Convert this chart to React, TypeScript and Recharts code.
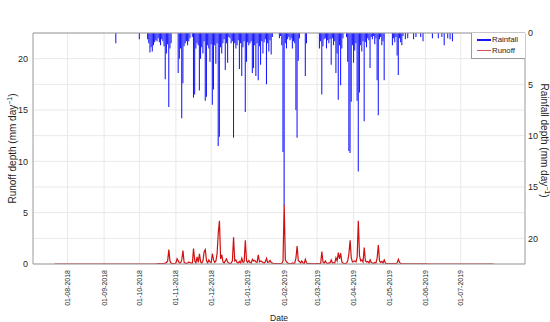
import React from 'react'
import { ComposedChart, Bar, Line, XAxis, YAxis, CartesianGrid, ReferenceLine } from 'recharts'

// ── Data ─────────────────────────────────────────────────────────────────────
// daily values, consecutive days starting at FIRST_DAY, read off month by month

const AXIS_ORIGIN = '2018-07-01'
const FIRST_DAY = '2018-07-21'

const monthTicks = [
  '2018-08-01', '2018-09-01', '2018-10-01', '2018-11-01', '2018-12-01', '2019-01-01',
  '2019-02-01', '2019-03-01', '2019-04-01', '2019-05-01', '2019-06-01', '2019-07-01',
]
const depthTicks = [0, 5, 10, 15, 20]
const gridValues = [0, 2.5, 5, 7.5, 10, 12.5, 15, 17.5, 20, 22.5]

// rainfall depth (mm/day)
const rainJul18 = [0, 0, 0, 0, 0, 0, 0, 0, 0, 0, 0, 0, 0]
const rainAug18 = [0, 0, 0, 0, 0, 0, 0, 0, 0, 0, 0, 0, 0, 0, 0, 0, 0, 0, 0, 0, 0, 0, 0, 0, 0, 0, 0, 0, 0, 0, 0]
const rainSep18 = [0, 0, 0, 0, 0, 0, 0, 0, 1.0, 0, 0, 0, 0, 0, 0, 0, 0, 0, 0, 0, 0, 0, 0, 0, 0, 0, 0, 0, 0.6, 0]
const rainOct18 = [0, 0, 0, 0, 0, 0.6, 1.0, 1.9, 1.4, 1.8, 1.2, 0.9, 0.7, 0.8, 0.5, 0.9, 1.2, 0.6, 0.8, 1.3, 4.5, 2.0, 1.1, 7.2, 1.5, 1.0, 0, 0, 0, 0, 0]
const rainNov18 = [3.9, 2.5, 1.5, 8.3, 4.9, 1.3, 1.0, 0.8, 1.2, 0.8, 0.5, 0, 0.4, 6.3, 6.0, 1.5, 1.0, 1.2, 5.6, 2.5, 1.4, 2.0, 0.8, 6.6, 6.2, 1.2, 1.5, 2.8, 1.1, 7.0]
const rainDec18 = [5.5, 1.2, 3.0, 1.0, 11.0, 10.1, 1.4, 2.0, 1.0, 0.6, 3.6, 1.0, 2.9, 0.4, 0.5, 1.0, 0.8, 10.2, 1.0, 1.5, 1.2, 0.7, 3.5, 1.0, 4.2, 1.4, 0.8, 7.7, 2.8, 0.9, 1.2]
const rainJan19 = [1.0, 0.8, 3.9, 3.4, 1.2, 4.2, 1.0, 4.6, 1.3, 3.1, 0.8, 2.0, 0.9, 0.6, 5.0, 1.0, 1.8, 0.7, 2.1, 0.4, 0, 0, 0, 0, 0, 0.5, 0.3, 1.2, 11.6, 16.8, 1.0]
const rainFeb19 = [1.5, 0.6, 0.4, 0.7, 0.5, 1.5, 0.8, 1.0, 7.5, 10.2, 2.7, 0.5, 0, 0, 0, 0, 4.2, 1.0, 0, 0, 0, 0, 0, 0, 0, 0, 0, 0]
const rainMar19 = [1.5, 0.8, 6.0, 1.3, 0.6, 0.5, 1.5, 0.7, 1.0, 0.6, 3.1, 0.5, 1.2, 0.8, 3.9, 2.0, 6.5, 1.2, 5.1, 1.5, 0.5, 0, 0, 0.4, 2.8, 11.5, 11.7, 6.7, 1.2, 2.9, 1.7]
const rainApr19 = [1.0, 6.6, 13.5, 5.8, 1.2, 1.8, 0.8, 8.6, 0.9, 1.4, 0.5, 0.7, 3.4, 0.4, 0.6, 0.3, 1.1, 0.5, 4.6, 8.0, 0.6, 0.4, 1.2, 0.8, 4.6, 0, 0, 0, 0, 0]
const rainMay19 = [0, 1.2, 0.5, 0.9, 0.4, 2.2, 4.1, 0.5, 0.9, 1.2, 0.3, 0, 0.6, 0, 0.5, 0, 0, 0, 0, 0.6, 0, 0.4, 0, 0, 0, 0.4, 0, 0.8, 0, 0, 0]
const rainJun19 = [0, 0, 0, 0, 0.5, 0, 0, 0, 0, 0.5, 0, 0, 0.4, 0, 1.2, 0, 0, 0.5, 0, 0.6, 0, 0.8, 0, 0, 0, 0, 0, 0, 0, 0]
const rainJul19 = [0, 0, 0, 0, 0, 0, 0, 0, 0, 0, 0, 0, 0, 0, 0, 0, 0, 0, 0, 0, 0, 0, 0, 0, 0, 0, 0]

// runoff depth (mm/day)
const runJul18 = [0, 0, 0, 0, 0, 0, 0, 0, 0, 0, 0, 0, 0]
const runAug18 = [0, 0, 0, 0, 0, 0, 0, 0, 0, 0, 0, 0, 0, 0, 0, 0, 0, 0, 0, 0, 0, 0, 0, 0, 0, 0, 0, 0, 0, 0, 0]
const runSep18 = [0, 0, 0, 0, 0, 0, 0, 0, 0, 0, 0, 0, 0, 0, 0, 0, 0, 0, 0, 0, 0, 0, 0, 0, 0, 0, 0, 0, 0, 0]
const runOct18 = [0, 0, 0, 0, 0, 0, 0, 0, 0, 0, 0, 0, 0, 0.02, 0.03, 0.03, 0.04, 0.05, 0.05, 0.06, 0.08, 0.15, 0.3, 1.4, 0.25, 0.08, 0.06, 0.05, 0.05, 0.1, 0.5]
const runNov18 = [0.3, 0.1, 0.1, 0.4, 1.3, 0.15, 0.08, 0.06, 0.1, 0.2, 0.15, 0.08, 0.1, 1.5, 0.3, 0.1, 0.7, 0.15, 1.0, 0.2, 0.1, 0.3, 1.2, 1.4, 0.3, 0.1, 0.4, 0.2, 0.15, 1.0]
const runDec18 = [0.4, 0.15, 0.3, 1.0, 3.0, 4.2, 0.5, 0.9, 0.2, 0.1, 0.3, 0.5, 0.2, 0.1, 0.05, 0.1, 0.3, 2.6, 0.3, 0.4, 0.15, 0.1, 0.25, 0.1, 0.55, 0.15, 0.2, 2.3, 0.3, 0.15, 0.35]
const runJan19 = [0.15, 0.1, 0.45, 0.3, 0.35, 0.2, 0.15, 0.9, 0.2, 0.3, 0.25, 0.15, 0.1, 0.2, 0.55, 0.15, 0.2, 0.35, 0.15, 0.08, 0.05, 0.05, 0.05, 0.05, 0.05, 0.05, 0.05, 0.05, 0.3, 5.75, 0.4]
const runFeb19 = [0.2, 0.1, 0.05, 0.05, 0.05, 0.1, 0.05, 0.1, 0.6, 1.75, 0.3, 0.25, 0.1, 0.3, 0.1, 0.05, 0.45, 0.1, 0.03, 0.03, 0.03, 0.03, 0.03, 0.03, 0.03, 0.03, 0.03, 0.03]
const runMar19 = [0.03, 0.05, 1.2, 0.2, 0.1, 0.3, 0.1, 0.05, 0.1, 0.1, 0.4, 0.1, 0.1, 0.1, 0.6, 0.3, 1.1, 0.5, 1.05, 0.2, 0.1, 0.05, 0.05, 0.1, 0.3, 1.0, 2.3, 0.6, 0.2, 0.25, 0.3]
const runApr19 = [0.2, 0.7, 4.2, 0.8, 0.3, 0.4, 0.2, 1.6, 0.3, 0.2, 0.25, 0.1, 0.4, 0.15, 0.1, 0.05, 0.15, 0.1, 0.6, 1.85, 0.3, 0.15, 0.25, 0.1, 0.4, 0.1, 0.05, 0.03, 0.03, 0.03]
const runMay19 = [0.03, 0.03, 0.03, 0.03, 0.03, 0.1, 0.45, 0.15, 0.05, 0.03, 0.02, 0.02, 0.02, 0.02, 0.02, 0.02, 0.02, 0.02, 0.02, 0.02, 0.02, 0.02, 0.02, 0.02, 0.02, 0.02, 0.02, 0.02, 0.02, 0.02, 0.02]
const runJun19 = [0, 0, 0, 0, 0, 0, 0, 0, 0, 0, 0, 0, 0, 0, 0, 0, 0, 0, 0, 0, 0, 0, 0, 0, 0, 0, 0, 0, 0, 0]
const runJul19 = [0, 0, 0, 0, 0, 0, 0, 0, 0, 0, 0, 0, 0, 0, 0, 0, 0, 0, 0, 0, 0, 0, 0, 0, 0, 0, 0]

const rainfall = [
  ...rainJul18, ...rainAug18, ...rainSep18, ...rainOct18, ...rainNov18, ...rainDec18, ...rainJan19,
  ...rainFeb19, ...rainMar19, ...rainApr19, ...rainMay19, ...rainJun19, ...rainJul19,
]
const runoff = [
  ...runJul18, ...runAug18, ...runSep18, ...runOct18, ...runNov18, ...runDec18, ...runJan19,
  ...runFeb19, ...runMar19, ...runApr19, ...runMay19, ...runJun19, ...runJul19,
]

const DAY_MS = 86400000
const dayNo = (iso: string) => (Date.parse(iso) - Date.parse(AXIS_ORIGIN)) / DAY_MS
const start = dayNo(FIRST_DAY)

const data = rainfall.map((r, i) => ({ day: start + i, rain: r, runoff: runoff[i] }))
const tickDays = monthTicks.map(dayNo)

const fmtDay = (d: number) => {
  const dt = new Date(Date.parse(AXIS_ORIGIN) + d * DAY_MS)
  const p = (n: number) => String(n).padStart(2, '0')
  return `${p(dt.getUTCDate())}-${p(dt.getUTCMonth() + 1)}-${dt.getUTCFullYear()}`
}

// ── Styles ───────────────────────────────────────────────────────────────────

const FONT = '"Liberation Sans", Arial, sans-serif'
const BLUE = '#1818ff'
const RED = '#d01010'
const AXIS = '#9a9a9a'
const GRID = '#e9e9e9'
const tickStyle = { fill: '#262626', fontSize: 9, fontFamily: FONT }

function DateTick({ x, y, payload }: any) {
  return (
    <text
      x={x} y={y} dy={2.6} transform={`rotate(-90 ${x} ${y})`} textAnchor="end"
      fill="#1e1e1e" fontSize={7} fontFamily={FONT}
    >
      {fmtDay(payload.value)}
    </text>
  )
}

function Unit() {
  return (
    <>
      <tspan>(mm day</tspan>
      <tspan dy={-4} fontSize={7}>−1</tspan>
      <tspan dy={4}>)</tspan>
    </>
  )
}

function LeftTitle({ viewBox }: any) {
  const cx = viewBox.x + 12
  const cy = viewBox.y + viewBox.height / 2
  return (
    <text x={cx} y={cy} transform={`rotate(-90 ${cx} ${cy})`} textAnchor="middle" dy={3.5}
      fill="#222" fontSize={10} fontFamily={FONT}>
      Runoff depth <Unit />
    </text>
  )
}

function RightTitle({ viewBox }: any) {
  const cx = viewBox.x + viewBox.width - 6
  const cy = viewBox.y + viewBox.height / 2 - 8
  return (
    <text x={cx} y={cy} transform={`rotate(90 ${cx} ${cy})`} textAnchor="middle" dy={3.5}
      fill="#222" fontSize={10} fontFamily={FONT}>
      Rainfall depth <Unit />
    </text>
  )
}

function LegendBox() {
  const row = { display: 'flex', alignItems: 'center', height: 11 }
  const label = { fontSize: 7.8, color: '#222', fontFamily: FONT, marginLeft: 1 }
  return (
    <div style={{
      position: 'absolute', left: 471, top: 33, width: 53, height: 24, background: '#fff',
      border: `1px solid ${AXIS}`, borderTop: 'none', borderRight: 'none', boxSizing: 'content-box',
      padding: '1px 0 0 0',
    }}>
      <div style={{ ...row, marginLeft: 5 }}>
        <div style={{ width: 14, height: 2, background: BLUE }} />
        <span style={label}>Rainfall</span>
      </div>
      <div style={{ ...row, marginLeft: 5 }}>
        <div style={{ width: 14, height: 1, background: '#d85050' }} />
        <span style={label}>Runoff</span>
      </div>
    </div>
  )
}

export default function App() {
  return (
    <div style={{ position: 'absolute', left: 0, top: 0, width: 550, height: 322, background: '#fff' }}>
      <ComposedChart width={550} height={322} data={data} margin={{ top: 33, right: 0, bottom: 0, left: 0 }}>
        <CartesianGrid yAxisId="left" stroke={GRID} horizontalValues={gridValues} verticalValues={tickDays} />
        <XAxis
          dataKey="day" type="number" domain={[1.6, 419.6]} ticks={tickDays} allowDataOverflow
          height={58} tickSize={0} tickMargin={6} tick={<DateTick />} interval={0}
          axisLine={{ stroke: AXIS }} tickLine={false}
          label={{ value: 'Date', position: 'insideBottom', offset: 1, style: { fill: '#222', fontSize: 8.5, fontFamily: FONT } }}
        />
        <YAxis
          yAxisId="left" domain={[0, 22.5]} ticks={depthTicks} width={33} allowDataOverflow
          tickSize={0} tickMargin={5} tick={tickStyle} axisLine={{ stroke: AXIS }} tickLine={false}
          label={LeftTitle}
        />
        <YAxis
          yAxisId="right" orientation="right" reversed domain={[0, 22.5]} ticks={depthTicks} width={25}
          allowDataOverflow tickSize={0} tickMargin={3} tick={tickStyle} axisLine={{ stroke: AXIS }}
          tickLine={false} label={RightTitle}
        />
        <ReferenceLine yAxisId="left" y={22.5} stroke={AXIS} />
        <Bar yAxisId="right" dataKey="rain" fill={BLUE} barSize={2} isAnimationActive={false} />
        <Line
          yAxisId="left" dataKey="runoff" type="linear" stroke={RED} strokeWidth={1.2}
          dot={false} activeDot={false} isAnimationActive={false}
        />
      </ComposedChart>
      <LegendBox />
    </div>
  )
}
